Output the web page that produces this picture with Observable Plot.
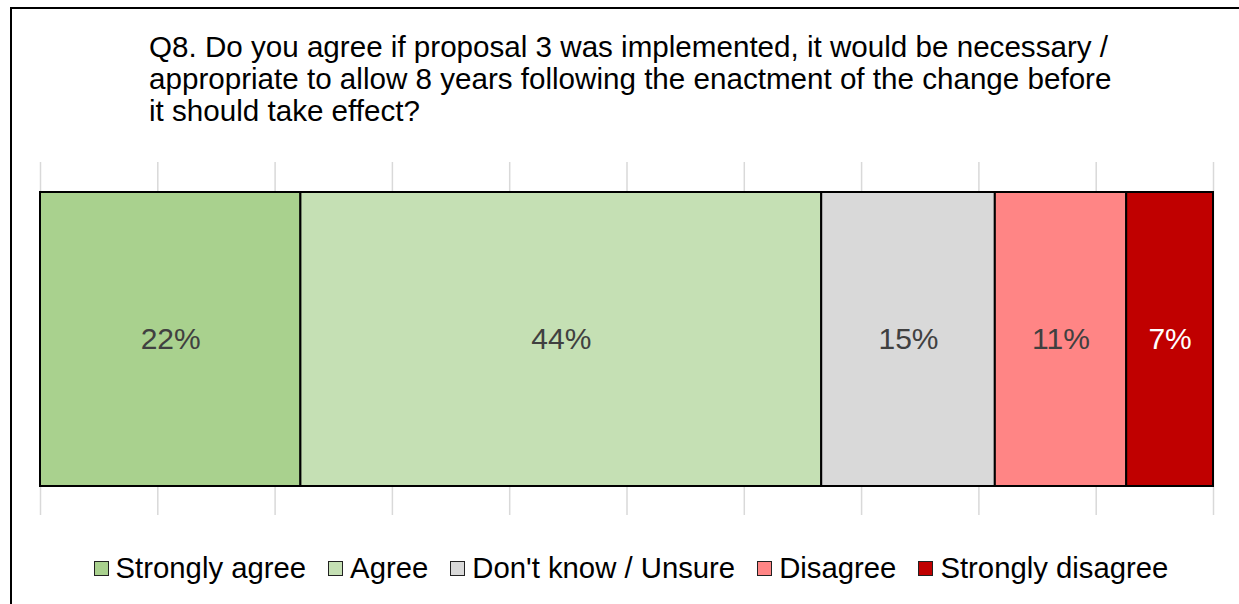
<!DOCTYPE html>
<html>
<head>
<meta charset="utf-8">
<script src="https://cdn.jsdelivr.net/npm/d3@7"></script>
<script src="https://cdn.jsdelivr.net/npm/@observablehq/plot@0.6"></script>
<style>
  html, body { margin: 0; padding: 0; background: #fff; overflow: hidden; width: 1239px; height: 604px; }
  body { position: relative; font-family: "Liberation Sans", Arial, sans-serif; }
  #frame { position: absolute; left: 10px; top: 7px; width: 1400px; height: 800px; border-left: 2px solid #000; border-top: 2px solid #000; box-sizing: border-box; }
  #title { position: absolute; left: 149px; top: 31px; font-size: 29.6px; line-height: 32px; color: #000; white-space: nowrap; }
  #chart { position: absolute; left: 0; top: 0; }
  #legend { position: absolute; left: 0; top: 551px; width: 1262px; display: flex; justify-content: center; font-size: 29.3px; line-height: 34px; color: #000; white-space: nowrap; }
  .item { display: flex; align-items: center; margin: 0 11px; }
  .sw { width: 13px; height: 13px; border: 1px solid #222; margin-right: 7px; }
</style>
</head>
<body>
<div id="frame"></div>
<div id="title">Q8. Do you agree if proposal 3 was implemented, it would be necessary /<br>appropriate to allow 8 years following the enactment of the change before<br>it should take effect?</div>
<div id="chart"></div>
<div id="legend"></div>
<script>
const categories = ["Strongly agree", "Agree", "Don't know / Unsure", "Disagree", "Strongly disagree"];
const values = [22.2, 44.4, 14.8, 11.2, 7.4];
const palette = ["#a9d18e", "#c5e0b4", "#d9d9d9", "#ff8585", "#c00000"];
const question = "Q8";

const data = categories.map((c, i) => ({question, category: c, value: values[i], label: Math.round(values[i]) + "%"}));
const dark = "Strongly disagree";

const chart = Plot.plot({
  width: 1239,
  height: 530,
  marginLeft: 40,
  marginRight: 26,
  marginTop: 162,
  marginBottom: 15,
  x: {domain: [0, 100], axis: null},
  y: {domain: [question], axis: null, paddingInner: 0, paddingOuter: 0.1},
  color: {domain: categories, range: palette},
  style: {fontFamily: "Liberation Sans, Arial, sans-serif", background: "transparent"},
  marks: [
    Plot.gridX(d3.range(0, 101, 10), {stroke: "#d9d9d9", strokeOpacity: 1, strokeWidth: 1.5}),
    Plot.barX(data, Plot.stackX({x: "value", y: "question", fill: "category", stroke: "#000", strokeWidth: 2})),
    Plot.text(data, Plot.stackX({x: "value", y: "question", text: d => d.category === dark ? "" : d.label, fill: "#404040", fontSize: 30})),
    Plot.text(data, Plot.stackX({x: "value", y: "question", text: d => d.category === dark ? d.label : "", fill: "#ffffff", fontSize: 30}))
  ]
});
document.getElementById("chart").appendChild(chart);

const legend = document.getElementById("legend");
categories.forEach((c, i) => {
  const item = document.createElement("div");
  item.className = "item";
  const sw = document.createElement("span");
  sw.className = "sw";
  sw.style.background = palette[i];
  const t = document.createElement("span");
  t.textContent = c;
  item.appendChild(sw);
  item.appendChild(t);
  legend.appendChild(item);
});
</script>
</body>
</html>
